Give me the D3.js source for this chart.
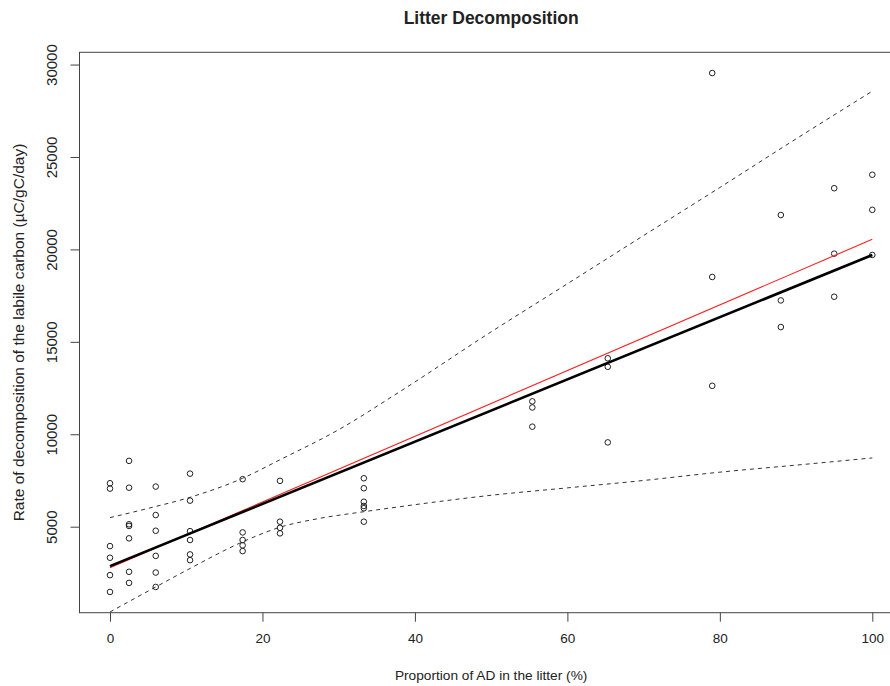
<!DOCTYPE html>
<html>
<head>
<meta charset="utf-8">
<script src="https://cdn.jsdelivr.net/npm/d3@7"></script>
<style>
    body { margin: 0; background: #fff; }
    text { font-family: "Liberation Sans", Arial, sans-serif; fill: #222; }
</style>
</head>
<body>
<div id="chart"></div>
<script>
// proportion of AD in the litter (%) and the measured rates for each proportion
const propAD = [0, 2.5, 6, 10.5, 17.4, 22.3, 33.3, 55.4, 65.3, 79, 88, 95, 100];
const rates = [
    [7350, 7060, 3950, 3320, 2380, 1470],
    [8560, 7110, 5130, 5040, 4370, 2560, 1960],
    [7170, 5630, 4780, 3420, 2520, 1740],
    [7870, 6410, 4760, 4280, 3500, 3190],
    [7570, 4690, 4280, 3990, 3680],
    [7480, 5270, 4940, 4640],
    [7620, 7080, 6350, 6120, 6000, 5270],
    [11780, 11450, 10410],
    [14110, 13650, 9560],
    [29540, 18510, 12620],
    [21860, 17240, 15800],
    [23310, 19770, 17440],
    [24040, 22140, 19700]
];

// fitted lines (black = model fit, red = second fit)
const fitX = [0, 100];
const fitY = [2865, 19700];
const redX = [0, 100];
const redY = [2780, 20550];

// dashed confidence bands
const upperX = [0, 5, 10.5, 17.4, 22.3, 30, 38, 50, 60, 70, 80, 90, 100];
const upperY = [5490, 5990, 6590, 7620, 8620, 10250, 12300, 15540, 18140, 20750, 23350, 25980, 28560];
const lowerX = [0, 6, 10.5, 17.4, 22.3, 27.5, 33.3, 38, 50, 60, 70, 80, 90, 100];
const lowerY = [385, 1740, 2740, 4180, 4970, 5450, 5810, 6080, 6700, 7100, 7500, 7950, 8330, 8720];

const xTicks = [0, 20, 40, 60, 80, 100];
const yTicks = [5000, 10000, 15000, 20000, 25000, 30000];

const width = 890, height = 686;
const plot = { left: 79.5, right: 902.8, top: 52.3, bottom: 612.7 };

let points = [];
propAD.forEach((p, i) => rates[i].forEach(r => points.push({ x: p, y: r })));

// R style 4% padding around the data range
let pad = (ext) => {
    let d = (ext[1] - ext[0]) * 0.04;
    return [ext[0] - d, ext[1] + d];
};

let x = d3.scaleLinear()
    .domain(pad(d3.extent(points, d => d.x)))
    .range([plot.left, plot.right]);
let y = d3.scaleLinear()
    .domain(pad(d3.extent(points, d => d.y)))
    .range([plot.bottom, plot.top]);

let svg = d3.select('#chart').append('svg')
    .attr('width', width)
    .attr('height', height);

svg.append('clipPath').attr('id', 'plotclip')
    .append('rect')
    .attr('x', plot.left).attr('y', plot.top)
    .attr('width', plot.right - plot.left)
    .attr('height', plot.bottom - plot.top);

// axes
let xAxis = svg.append('g')
    .attr('transform', `translate(0,${plot.bottom})`)
    .call(d3.axisBottom(x).tickValues(xTicks).tickSize(9).tickPadding(12).tickFormat(d3.format('d')));
let yAxis = svg.append('g')
    .attr('transform', `translate(${plot.left},0)`)
    .call(d3.axisLeft(y).tickValues(yTicks).tickSize(9).tickFormat(d3.format('d')));

[xAxis, yAxis].forEach(g => {
    g.select('.domain').remove();
    g.selectAll('line').attr('stroke', '#444');
    g.selectAll('text').attr('fill', '#222');
});
xAxis.selectAll('text').attr('dy', '0.71em').attr('font-size', 13.5);
yAxis.selectAll('text')
    .attr('font-size', 15)
    .attr('transform', 'translate(-22.5,0) rotate(-90)')
    .attr('x', 0).attr('dy', 0)
    .attr('text-anchor', 'middle');

// plot box
svg.append('rect')
    .attr('x', plot.left).attr('y', plot.top)
    .attr('width', plot.right - plot.left)
    .attr('height', plot.bottom - plot.top)
    .attr('fill', 'none')
    .attr('stroke', '#444')
    .attr('stroke-width', 1);

let g = svg.append('g').attr('clip-path', 'url(#plotclip)');

let zip = (xs, ys) => xs.map((v, i) => [v, ys[i]]);
let line = d3.line().x(d => x(d[0])).y(d => y(d[1]));
let curve = d3.line().x(d => x(d[0])).y(d => y(d[1])).curve(d3.curveMonotoneX);

// bands
[zip(upperX, upperY), zip(lowerX, lowerY)].forEach(b => {
    g.append('path')
        .attr('d', curve(b))
        .attr('fill', 'none')
        .attr('stroke', '#333')
        .attr('stroke-width', 1)
        .attr('stroke-dasharray', '4,4');
});

// points
g.selectAll('circle').data(points).enter().append('circle')
    .attr('cx', d => x(d.x))
    .attr('cy', d => y(d.y))
    .attr('r', 2.8)
    .attr('fill', 'none')
    .attr('stroke', '#222')
    .attr('stroke-width', 1);

g.append('path')
    .attr('d', line(zip(redX, redY)))
    .attr('fill', 'none')
    .attr('stroke', '#ff2020')
    .attr('stroke-width', 1.1);

g.append('path')
    .attr('d', line(zip(fitX, fitY)))
    .attr('fill', 'none')
    .attr('stroke', '#000')
    .attr('stroke-width', 2.6);

// titles
let cx = (plot.left + plot.right) / 2;
svg.append('text')
    .attr('x', cx).attr('y', 24)
    .attr('text-anchor', 'middle')
    .attr('font-size', 17.5)
    .attr('font-weight', 'bold')
    .attr('fill', '#000')
    .text('Litter Decomposition');

svg.append('text')
    .attr('x', cx).attr('y', 680)
    .attr('text-anchor', 'middle')
    .attr('font-size', 13.7)
    .text('Proportion of AD in the litter (%)');

svg.append('text')
    .attr('transform', `translate(24,${(plot.top + plot.bottom) / 2}) rotate(-90)`)
    .attr('text-anchor', 'middle')
    .attr('font-size', 15.5)
    .text('Rate of decomposition of the labile carbon (µC/gC/day)');
</script>
</body>
</html>
